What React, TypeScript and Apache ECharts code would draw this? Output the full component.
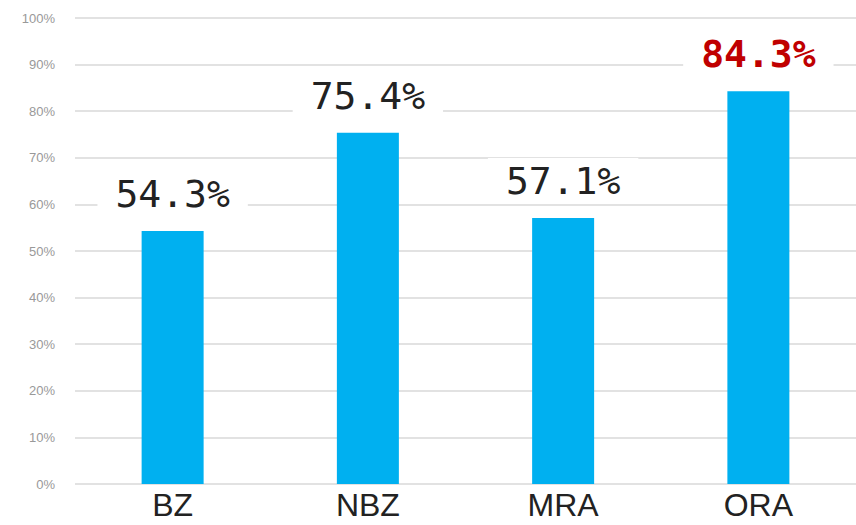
import React, { useEffect, useRef } from "react";
import * as echarts from "echarts";

const categories = ["BZ", "NBZ", "MRA", "ORA"];
const values = [54.3, 75.4, 57.1, 84.3];
const highlightIndex = 3;
const yTicks = [0, 10, 20, 30, 40, 50, 60, 70, 80, 90, 100];

export default function App() {
  const ref = useRef<HTMLDivElement>(null);
  useEffect(() => {
    if (!ref.current) return;
    const chart = echarts.init(ref.current, null, { renderer: "svg" });
    const labelBase = {
      show: true,
      position: "top",
      distance: 14,
      fontFamily: "DejaVu Sans Mono",
      fontSize: 38,
      color: "#222",
      backgroundColor: "#fff",
      padding: [4, 18, 4, 18],
      formatter: (p: any) => p.value.toFixed(1) + "%",
    };
    chart.setOption({
      animation: false,
      backgroundColor: "#fff",
      grid: { left: 75, width: 792, top: 18, bottom: 41 },
      xAxis: {
        type: "category",
        data: categories,
        axisLine: { show: false },
        axisTick: { show: false },
        axisLabel: {
          fontFamily: "Liberation Sans",
          fontSize: 32,
          lineHeight: 26,
          color: "#222",
          margin: 8,
        },
      },
      yAxis: {
        type: "value",
        min: yTicks[0],
        max: yTicks[yTicks.length - 1],
        interval: 10,
        axisLabel: {
          formatter: "{value}%",
          fontFamily: "Liberation Sans",
          fontSize: 13,
          color: "#999",
          margin: 20,
        },
        splitLine: { lineStyle: { color: "#d9d9d9", width: 1.5 } },
      },
      series: [
        {
          type: "bar",
          barWidth: 62,
          itemStyle: { color: "#00B0F0" },
          z: 2,
          data: values.map((v, i) =>
            i === highlightIndex
              ? {
                  value: v,
                  label: { ...labelBase, color: "#C00000", fontWeight: "bold" },
                }
              : { value: v, label: labelBase }
          ),
          label: labelBase,
        },
      ],
    });
    return () => chart.dispose();
  }, []);
  return (
    <div
      ref={ref}
      style={{ position: "fixed", left: 0, top: 0, width: 856, height: 525 }}
    />
  );
}
